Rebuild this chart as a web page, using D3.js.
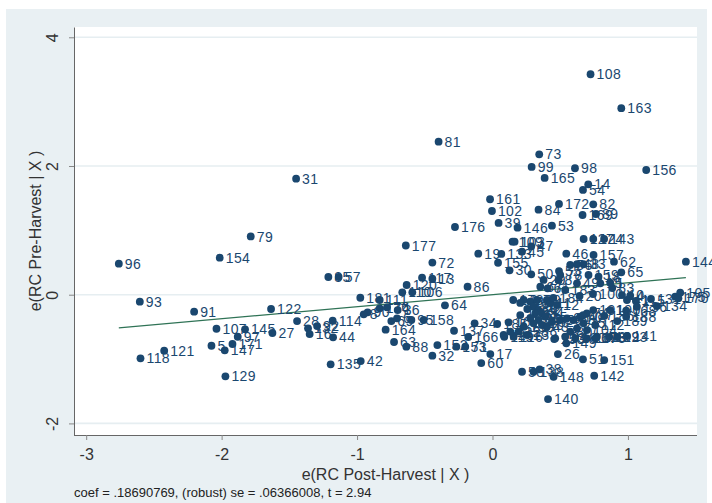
<!DOCTYPE html>
<html>
<head>
<meta charset="utf-8">
<script src="https://cdn.jsdelivr.net/npm/d3@7"></script>
<style>
  body { margin: 0; background: #ffffff; }
  svg { display: block; }
</style>
</head>
<body>
<svg id="chart" width="712" height="503"></svg>
<script>
// Observation ids used as marker labels
const obsLabels = [
  108,163,81,73,99,98,156,31,165,14,54,161,172,82,102,84,169,89,176,39,146,53,79,177,127,124,143,
  154,96,72,144,19,133,45,109,103,47,46,157,62,65,155,30,50,29,85,57,117,13,86,120,106,110,181,111,
  64,93,91,122,107,145,27,97,5,171,147,121,118,129,28,114,132,16,92,44,135,42,164,63,88,32,158,90,
  8,174,76,36,69,6,95,137,34,152,153,71,166,17,60,58,138,38,148,142,140,26,51,151,162,119,116,41,
  115,131,175,105,170,134,168,136,20,100,10,4,83,56,48,33,159,18,15,1,55,78,87,49,67,61,2,3,7,9,
  11,12,21,22,23,24,25,35,37,40,43,52,59,66,68,70,74,75,77,80,94,104,112,113,123,125,126,128,130,
  139,150,141,149,160,167,173,178,179,180,101,182,183,184,185,186,187,188,189,190,191,192,193
];

// e(RC Post-Harvest | X)
const postHarvestResid = [
  0.724,0.951,-0.398,0.345,0.289,0.609,1.135,-1.450,0.385,0.707,0.668,-0.018,0.491,0.744,-0.004,0.340,0.665,0.764,-0.277,0.045,0.185,0.439,-1.785,-0.640,0.673,0.744,0.824,
  -2.014,-2.759,-0.444,1.428,-0.105,0.065,0.218,0.148,0.163,0.286,0.545,0.746,0.897,0.951,0.041,0.126,0.286,0.377,-1.212,-1.136,-0.520,-0.444,-0.184,-0.634,-0.592,-0.666,-0.976,-0.833,
  -0.351,-2.604,-2.203,-1.635,-2.038,-1.827,-1.625,-1.881,-2.075,-1.920,-1.977,-2.424,-2.599,-1.972,-1.443,-1.180,-1.362,-1.350,-1.295,-1.177,-1.195,-0.973,-0.789,-0.727,-0.636,-0.444,-0.508,-0.922,
  -0.951,-0.833,-0.779,-0.700,-0.747,-0.705,-0.599,-0.284,-0.132,-0.407,-0.267,-0.201,-0.179,-0.016,-0.083,0.218,0.303,0.348,0.451,0.751,0.410,0.483,0.668,0.825,0.119,0.087,0.156,0.993,
  1.059,1.170,1.349,1.386,1.373,1.214,0.987,1.066,0.643,0.742,0.956,1.017,0.884,0.574,0.624,0.672,0.709,0.783,0.796,0.869,0.491,0.500,0.488,0.624,0.353,0.407,0.230,0.279,0.328,0.402,
  0.427,0.476,0.303,0.340,0.316,0.365,0.390,0.340,0.303,0.365,0.402,0.439,0.500,0.550,0.599,0.648,0.697,0.672,0.624,0.574,0.537,0.697,0.759,0.771,0.463,0.131,0.082,0.193,0.230,
  0.255,0.456,0.993,0.545,0.611,0.697,0.759,0.153,0.205,0.257,0.279,0.205,0.537,0.449,0.035,0.825,0.670,0.987,0.921,0.869,0.744,0.862,0.921
];

// e(RC Pre-Harvest | X)
const preHarvestResid = [
  3.426,2.898,2.378,2.182,1.985,1.965,1.938,1.803,1.814,1.716,1.628,1.483,1.410,1.405,1.301,1.321,1.239,1.254,1.052,1.115,1.042,1.073,0.905,0.765,0.866,0.866,0.866,
  0.575,0.482,0.500,0.513,0.637,0.633,0.668,0.824,0.824,0.752,0.637,0.617,0.513,0.348,0.497,0.379,0.317,0.229,0.275,0.275,0.264,0.249,0.124,0.151,0.037,0.037,-0.047,-0.082,
  -0.165,-0.109,-0.264,-0.222,-0.529,-0.538,-0.595,-0.653,-0.793,-0.766,-0.864,-0.870,-0.989,-1.268,-0.409,-0.404,-0.522,-0.611,-0.487,-0.662,-1.082,-1.031,-0.544,-0.735,-0.808,-0.948,-0.393,-0.274,
  -0.305,-0.211,-0.196,-0.238,-0.409,-0.367,-0.393,-0.560,-0.445,-0.782,-0.808,-0.808,-0.657,-0.922,-1.062,-1.197,-1.197,-1.160,-1.275,-1.259,-1.621,-0.922,-1.004,-1.015,-0.429,-0.653,-0.653,-0.082,
  -0.098,-0.067,-0.031,0.031,-0.056,-0.176,-0.249,-0.187,-0.020,0.011,-0.005,-0.016,0.104,0.462,0.473,0.473,0.306,0.280,0.177,0.187,0.368,0.306,0.229,0.177,0.124,0.099,-0.082,-0.109,-0.082,-0.082,
  -0.134,-0.160,-0.187,-0.238,-0.289,-0.289,-0.342,-0.393,-0.445,-0.471,-0.497,-0.420,-0.393,-0.367,-0.393,-0.342,-0.289,-0.445,-0.522,-0.575,-0.653,-0.549,-0.471,-0.653,-0.678,-0.575,-0.626,-0.575,-0.497,
  -0.626,-0.689,-0.642,-0.755,-0.678,-0.678,-0.678,-0.082,-0.128,-0.222,-0.362,-0.316,0.073,-0.051,-0.455,-0.331,-0.316,-0.342,-0.409,-0.238,-0.238,-0.657,-0.657
];

const xTicks = [-3, -2, -1, 0, 1];
const yTicks = [-2, 0, 2, 4];
const coef = 0.18690769;
const xTitle = "e(RC Post-Harvest | X )";
const yTitle = "e(RC Pre-Harvest | X )";
const noteText = "coef = .18690769, (robust) se = .06366008, t = 2.94";

const points = obsLabels.map((id, i) => ({ id, x: postHarvestResid[i], y: preHarvestResid[i] }));

const svg = d3.select("#chart");
const font = "'Liberation Sans', Arial, sans-serif";
const navy = "#1a476f";
// plain hyphen for negative tick values
const tickFmt = d => String(d);

// graph region background
svg.append("rect").attr("x", 6).attr("y", 9).attr("width", 701).attr("height", 494).attr("fill", "#e9f0f3");

const plot = { left: 74, right: 697, top: 27, bottom: 435 };
svg.append("rect")
  .attr("x", plot.left).attr("y", plot.top)
  .attr("width", plot.right - plot.left).attr("height", plot.bottom - plot.top)
  .attr("fill", "#ffffff");

const x = d3.scaleLinear().domain([-3.09, 1.51]).range([plot.left, plot.right]);
const y = d3.scaleLinear().domain([-2.18, 4.16]).range([plot.bottom, plot.top]);

// horizontal grid lines
svg.append("g").selectAll("line").data(yTicks).join("line")
  .attr("x1", plot.left).attr("x2", plot.right)
  .attr("y1", d => y(d)).attr("y2", d => y(d))
  .attr("stroke", "#e6eef1").attr("stroke-width", 1.6);

// axes
const yAxis = svg.append("g")
  .attr("transform", `translate(${plot.left},0)`)
  .call(d3.axisLeft(y).tickValues(yTicks).tickSize(5).tickSizeOuter(0).tickFormat(tickFmt));
yAxis.selectAll("text")
  .attr("transform", "rotate(-90)")
  .attr("x", 0).attr("y", -22).attr("dy", null)
  .attr("text-anchor", "middle")
  .attr("dominant-baseline", "central");

const xAxis = svg.append("g")
  .attr("transform", `translate(0,${plot.bottom})`)
  .call(d3.axisBottom(x).tickValues(xTicks).tickSize(5).tickSizeOuter(0).tickFormat(tickFmt));
xAxis.selectAll("text").attr("y", 14);

[yAxis, xAxis].forEach(g => {
  g.select(".domain").attr("stroke", "#666").attr("stroke-width", 1);
  g.selectAll(".tick line").attr("stroke", "#888");
  g.selectAll("text").attr("font-family", font).attr("font-size", 16).attr("fill", "#333");
});
// the d3 axis path spans the scale range; keep it within the plot box
xAxis.select(".domain").attr("d", `M${plot.left},0.5H${plot.right}`);

// fitted line through the residual cloud
const xr = d3.extent(points, d => d.x);
svg.append("line")
  .attr("x1", x(xr[0])).attr("y1", y(coef * xr[0]))
  .attr("x2", x(xr[1])).attr("y2", y(coef * xr[1]))
  .attr("stroke", "#2f7356").attr("stroke-width", 1.3);

// markers with observation labels
const obs = svg.append("g").selectAll("g").data(points).join("g");
obs.append("circle")
  .attr("cx", d => x(d.x)).attr("cy", d => y(d.y))
  .attr("r", 3.9).attr("fill", navy);
obs.append("text")
  .attr("x", d => x(d.x) + 6).attr("y", d => y(d.y))
  .attr("dy", "0.36em")
  .attr("font-family", font).attr("font-size", 14).attr("letter-spacing", 0.4)
  .attr("fill", navy)
  .text(d => d.id);

// titles and note
svg.append("text")
  .attr("x", (plot.left + plot.right) / 2).attr("y", 480)
  .attr("text-anchor", "middle")
  .attr("font-family", font).attr("font-size", 16).attr("fill", "#333")
  .text(xTitle);
svg.append("text")
  .attr("transform", `translate(41,${(plot.top + plot.bottom) / 2}) rotate(-90)`)
  .attr("text-anchor", "middle")
  .attr("font-family", font).attr("font-size", 16).attr("fill", "#333")
  .text(yTitle);
svg.append("text")
  .attr("x", 74).attr("y", 497)
  .attr("font-family", font).attr("font-size", 13).attr("fill", "#222")
  .text(noteText);
</script>
</body>
</html>
